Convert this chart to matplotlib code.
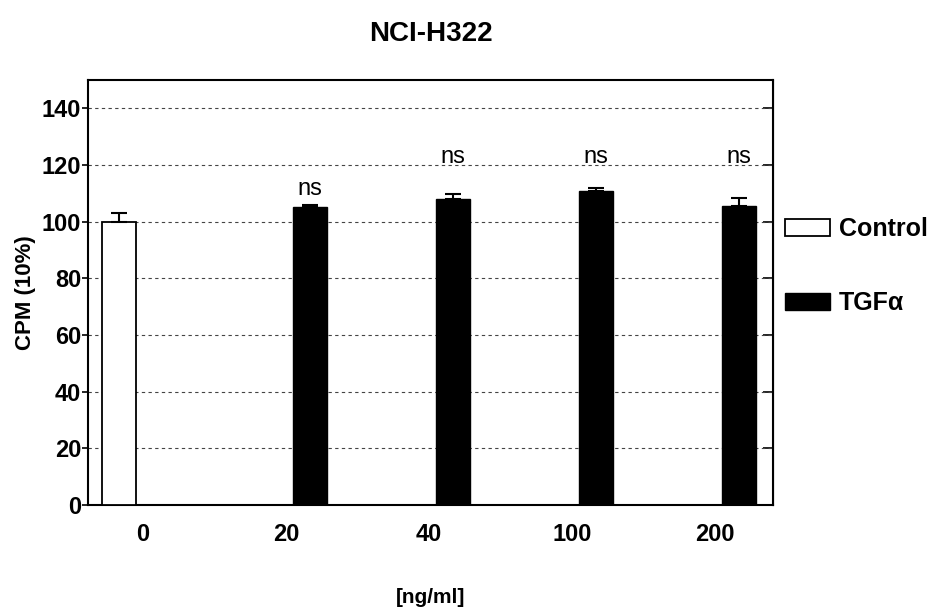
import numpy as np
import matplotlib
matplotlib.use("Agg")
import matplotlib.pyplot as plt
from matplotlib.patches import Rectangle

plt.rcParams['font.family'] = ['Liberation Sans', 'DejaVu Sans']

doses = ["0", "20", "40", "100", "200"]
control_vals = [100.0, 0, 0, 0, 0]
control_err = [3.0, 0, 0, 0, 0]
tgf_vals = [0, 105.2, 108.1, 110.8, 105.5]
tgf_err = [0, 0.6, 1.6, 1.1, 2.8]
sig_labels = ["", "ns", "ns", "ns", "ns"]
sig_y = [None, 109.5, 120.6, 120.6, 120.6]

x = np.arange(len(doses))
w = 0.24
off = 0.17

fig = plt.figure(figsize=(9.3, 6.14), dpi=100)
ax = fig.add_axes([88/930, 1-505/614, (773-88)/930, (505-80)/614])

# only draw the bars that exist in the figure
cx = [x[i]-off for i in range(len(doses)) if control_vals[i] > 0]
cv = [v for v in control_vals if v > 0]
ce = [e for v, e in zip(control_vals, control_err) if v > 0]
ax.bar(cx, cv, w, color="white", edgecolor="black", linewidth=1.3, zorder=3)
ax.errorbar(cx, cv, yerr=[[0]*len(ce), ce], fmt="none", ecolor="black",
            elinewidth=1.5, capsize=6, capthick=1.5, zorder=4)

tx = [x[i]+off for i in range(len(doses)) if tgf_vals[i] > 0]
tv = [v for v in tgf_vals if v > 0]
te = [e for v, e in zip(tgf_vals, tgf_err) if v > 0]
ax.bar(tx, tv, w, color="black", edgecolor="black", linewidth=1.0, zorder=3)
ax.errorbar(tx, tv, yerr=[[0]*len(te), te], fmt="none", ecolor="black",
            elinewidth=1.5, capsize=6, capthick=1.5, zorder=4)

for i, lab in enumerate(sig_labels):
    if lab:
        ax.text(x[i]+off, sig_y[i], lab, ha="center", va="baseline",
                fontsize=17, zorder=5)

ax.set_xlim(-0.385, 4.406)
ax.set_ylim(0, 150)
ax.set_yticks(np.arange(0, 141, 20))
ax.set_xticks(x)
ax.set_xticklabels(doses, fontsize=17, fontweight="bold")
ax.tick_params(axis="x", length=0, pad=13)
ax.tick_params(axis="y", direction="out", length=4.5, width=1.2, pad=0.5,
               labelsize=17)
for t in ax.get_yticklabels():
    t.set_fontweight("bold")

ax.yaxis.grid(True, linestyle=(0, (3, 3)), color="#444444", linewidth=0.8)
ax.set_axisbelow(True)
for s in ax.spines.values():
    s.set_linewidth(1.5)

ax2 = ax.secondary_yaxis("right")
ax2.set_yticks(np.arange(0, 141, 20))
ax2.tick_params(direction="in", length=7, width=1.2, labelright=False)

ax.set_ylabel("CPM (10%)", fontsize=16, fontweight="bold", labelpad=4)
ax.set_xlabel("[ng/ml]", fontsize=15, fontweight="bold", labelpad=30)
ax.set_title("NCI-H322", fontsize=20, fontweight="bold", pad=28)

handles = [Rectangle((0, 0), 1, 1, facecolor="white", edgecolor="black", linewidth=1.3),
           Rectangle((0, 0), 1, 1, facecolor="black", edgecolor="black")]
ax.legend(handles, ["Control", "TGFα"], loc="center left",
          bbox_to_anchor=(1.0175, 0.562), frameon=False, borderpad=0,
          borderaxespad=0, handlelength=1.8, handleheight=0.7,
          handletextpad=0.35, labelspacing=2.0,
          prop={"size": 18, "weight": "bold"})

fig.savefig("out.png", dpi=100)
